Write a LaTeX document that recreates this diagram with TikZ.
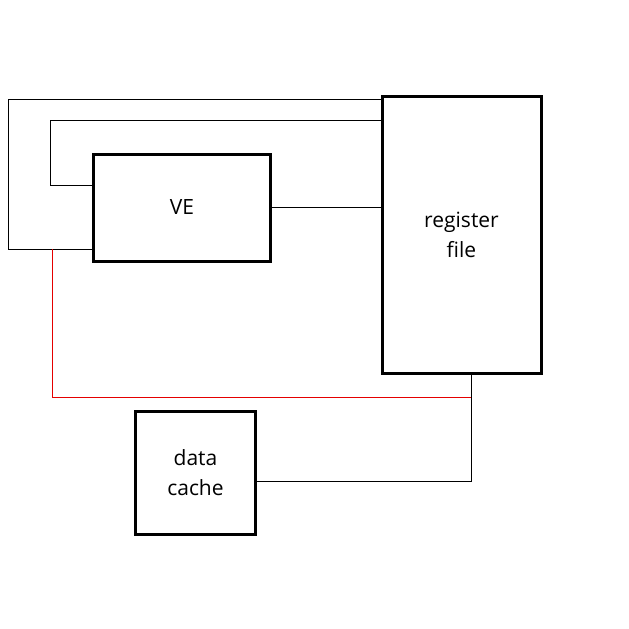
\documentclass[tikz,border=0pt]{standalone}
\usepackage{fontspec}
\setmainfont{Open Sans}
\usepackage{tikz}
\usetikzlibrary{positioning}

\begin{document}
\begin{tikzpicture}[
  x=1pt, y=-1pt,
  unit/.style={draw, line width=3pt, align=center, inner sep=0pt, outer sep=0pt, font=\fontsize{21}{30}\selectfont},
  wire/.style={line width=1pt},
  feed/.style={line width=1pt, red!90!black}
]
\useasboundingbox (0,0) rectangle (629,629);
\node[unit, minimum width=177pt, minimum height=107pt] (ve) at (182,207.5) {VE};
\node[unit, minimum width=159pt, minimum height=277pt] (rf) at (461.5,235) {register\\file};
\node[unit, minimum width=120pt, minimum height=123pt] (dc) at (195.5,473) {data\\cache};
\coordinate (outer) at (8,99.5);
\coordinate (inner) at (50,120);
\coordinate (tap) at (471,397);
% loops from the register file back into VE
\draw[wire] (rf.west |- outer) -- (outer) |- (ve.west |- 0,249);
\draw[wire] (rf.west |- inner) -- (inner) |- (ve.west |- 0,185);
\draw[wire] (ve.east) -- (ve.east -| rf.west);
% path to the data cache
\draw[feed] (52,249) |- (tap);
\draw[wire] (rf.south -| tap) -- ([yshift=-8pt]tap |- dc.east) -- ([yshift=-8pt]dc.east);
\end{tikzpicture}
\end{document}
